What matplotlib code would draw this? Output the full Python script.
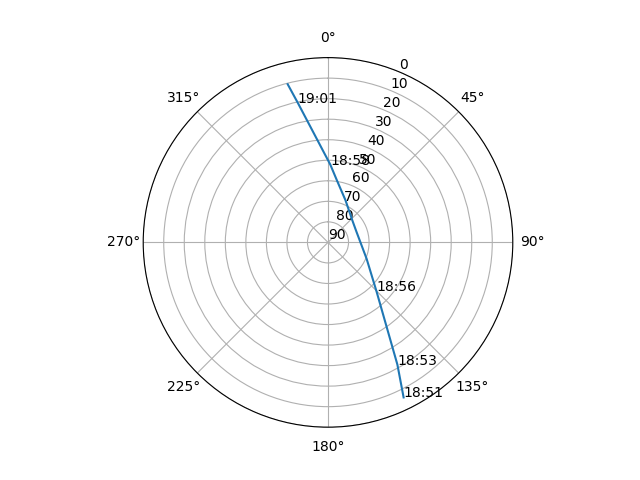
import numpy as np
import matplotlib.pyplot as plt

# pass track: azimuth (deg), elevation (deg), time labels
azimuth = [154.0, 150.4, 135.3, 112.9, 69.4, 47.7, 22.6, 8.2, 1.7, 352.6, 347.8, 345.7]
elevation = [6.0, 21.6, 56.4, 69.6, 75.2, 74.0, 67.8, 59.5, 52.1, 36.4, 20.5, 10.5]
labels = ['18:51', '18:53', '18:56', '', '', '', '', '', '18:58', '', '19:01', '']

fig, ax = plt.subplots(figsize=(6.4, 4.8), dpi=100, subplot_kw={'projection': 'polar'})
ax.set_theta_zero_location('N')
ax.set_theta_direction(-1)

theta = np.unwrap(np.radians(azimuth))
ax.plot(theta, elevation)

for t, el, lab in zip(theta, elevation, labels):
    if lab:
        ax.text(t, el, lab)

ax.set_ylim(90, 0)
ax.set_yticks(range(0, 91, 10))

fig.savefig('out.png')
